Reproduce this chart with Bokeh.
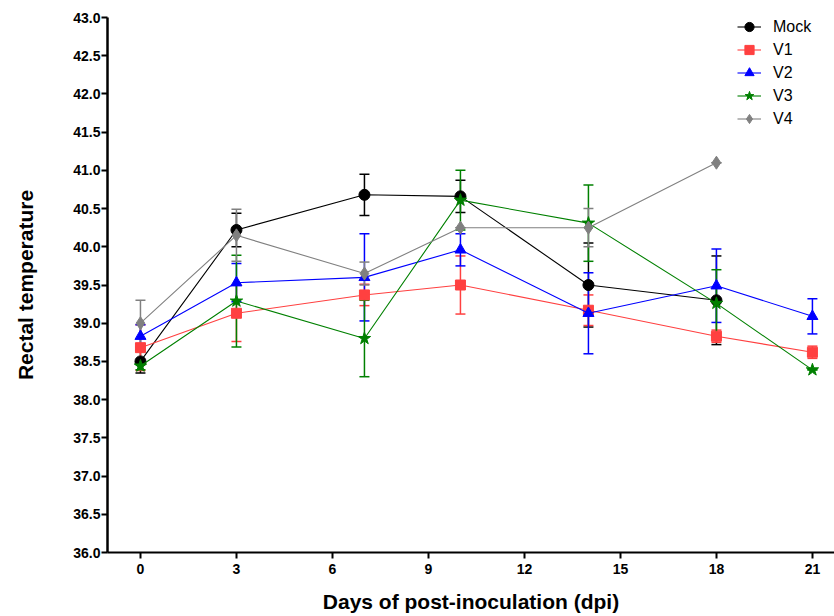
from bokeh.plotting import figure
from bokeh.models import ColumnDataSource, Whisker, TeeHead, FixedTicker, PrintfTickFormatter, Legend, LegendItem, Range1d
from bokeh.embed import file_html
from bokeh.resources import INLINE

# ---- data ----
series_names = ["Mock", "V1", "V2", "V3", "V4"]
days_mock = [0, 3, 7, 10, 14, 18]
mock = [38.50, 40.22, 40.68, 40.66, 39.50, 39.30]
mock_err = [0.15, 0.22, 0.27, 0.21, 0.55, 0.58]

days_v1 = [0, 3, 7, 10, 14, 18, 21]
v1 = [38.68, 39.13, 39.37, 39.50, 39.17, 38.83, 38.62]
v1_err = [0.30, 0.37, 0.14, 0.38, 0.20, 0.08, 0.08]

days_v2 = [0, 3, 7, 10, 14, 18, 21]
v2 = [38.83, 39.53, 39.60, 39.96, 39.13, 39.49, 39.09]
v2_err = [0.15, 0.25, 0.57, 0.21, 0.53, 0.48, 0.23]

days_v3 = [0, 3, 7, 10, 14, 18, 21]
v3 = [38.44, 39.29, 38.80, 40.61, 40.31, 39.26, 38.39]
v3_err = [0.05, 0.60, 0.50, 0.39, 0.50, 0.44, 0.0]

days_v4 = [0, 3, 7, 10, 14, 18]
v4 = [39.00, 40.15, 39.65, 40.25, 40.25, 41.10]
v4_err = [0.30, 0.34, 0.15, 0.0, 0.25, 0.0]

x_ticks = [0, 3, 6, 9, 12, 15, 18, 21]
y_ticks = [36.0, 36.5, 37.0, 37.5, 38.0, 38.5, 39.0, 39.5, 40.0, 40.5, 41.0, 41.5, 42.0, 42.5, 43.0]

x_title = "Days of post-inoculation (dpi)"
y_title = "Rectal temperature"

# ---- styles ----
colors = ["#000000", "#ff4040", "#0000ff", "#008000", "#808080"]
markers = ["circle", "square", "triangle", "star", "diamond"]
msizes = [11, 10, 11, 13, 13]
FONT = "Liberation Sans"

p = figure(width=834, height=616, output_backend="svg", toolbar_location=None,
           x_range=Range1d(-1.03, 21.69), y_range=Range1d(36.0, 43.0),
           min_border_left=107, min_border_right=0, min_border_top=17, min_border_bottom=64)
p.xgrid.visible = False
p.ygrid.visible = False
p.outline_line_color = None
p.background_fill_color = "white"

p.yaxis.ticker = FixedTicker(ticks=y_ticks)
p.yaxis.formatter = PrintfTickFormatter(format="%.1f")
p.xaxis.ticker = FixedTicker(ticks=x_ticks)
for ax in (p.xaxis, p.yaxis):
    ax.minor_tick_line_color = None
    ax.major_tick_line_width = 2
    ax.major_tick_out = 6
    ax.major_tick_in = 0
    ax.axis_line_color = "black"
    ax.major_tick_line_color = "black"
    ax.major_label_text_color = "black"
    ax.axis_label_text_color = "black"
    ax.major_label_text_font = FONT
    ax.major_label_text_font_style = "bold"
    ax.major_label_text_font_size = "14px"
    ax.axis_label_text_font = FONT
    ax.axis_label_text_font_style = "bold"
p.yaxis.axis_line_width = 2.5
p.xaxis.axis_line_width = 2
p.yaxis.major_label_standoff = 1
p.xaxis.major_label_standoff = 5
p.xaxis.axis_label = x_title
p.yaxis.axis_label = y_title
p.xaxis.axis_label_text_font_size = "21px"
p.xaxis.axis_label_standoff = 13
p.yaxis.axis_label_text_font_size = "21px"
p.yaxis.axis_label_standoff = 33

all_days = [days_mock, days_v1, days_v2, days_v3, days_v4]
all_vals = [mock, v1, v2, v3, v4]
all_errs = [mock_err, v1_err, v2_err, v3_err, v4_err]

items = []
for name, d, v, e, c, m, s in zip(series_names, all_days, all_vals, all_errs, colors, markers, msizes):
    src = ColumnDataSource(dict(x=d, y=v,
                                upper=[a + b for a, b in zip(v, e)],
                                lower=[a - b for a, b in zip(v, e)]))
    w = Whisker(base="x", upper="upper", lower="lower", source=src, dimension="height",
                line_color=c, line_width=1.5,
                upper_head=TeeHead(size=10, line_color=c, line_width=1.5),
                lower_head=TeeHead(size=10, line_color=c, line_width=1.5))
    p.add_layout(w)
    ln = p.line("x", "y", source=src, line_color=c, line_width=1.1)
    sc = p.scatter("x", "y", source=src, marker=m, size=s, fill_color=c, line_color=c)
    items.append(LegendItem(label=name, renderers=[ln, sc]))

legend = Legend(items=items, location=(630, 422))
legend.label_text_font = FONT
legend.label_text_font_size = "16px"
legend.label_text_color = "black"
legend.glyph_width = 24
legend.glyph_height = 23
legend.label_height = 23
legend.spacing = 0
legend.padding = 4
legend.label_standoff = 12
legend.border_line_color = None
legend.background_fill_alpha = 0
p.add_layout(legend)

open("out.html", "w").write(file_html(p, INLINE))
